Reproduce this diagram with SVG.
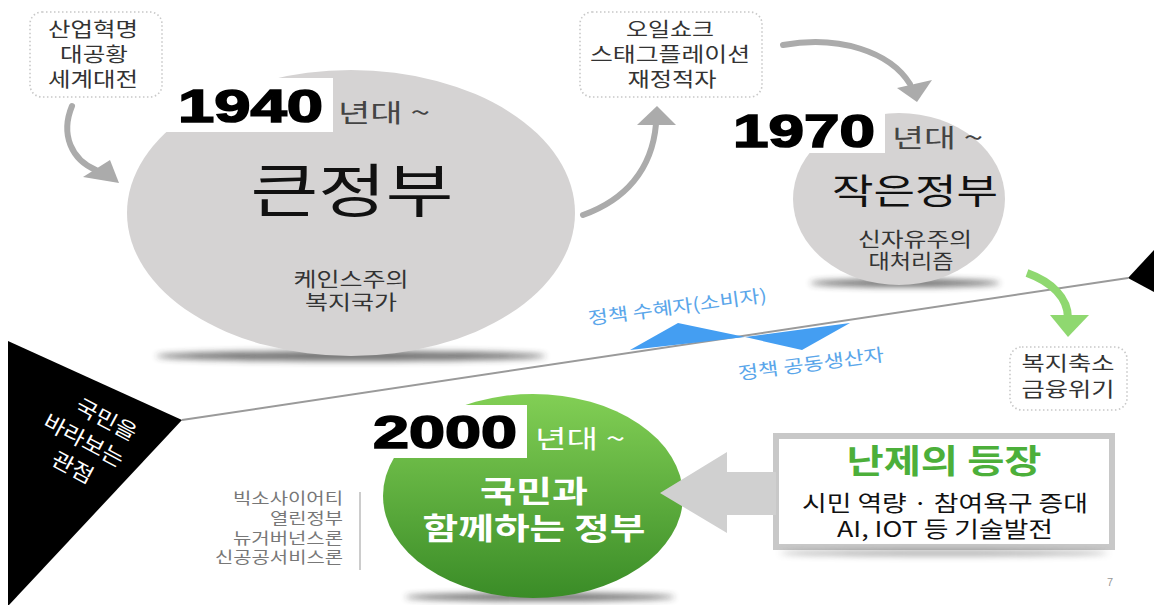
<svg xmlns="http://www.w3.org/2000/svg" width="1154" height="605" viewBox="0 0 1154 605">
<defs>
<style>
.kr{font-family:"Noto Sans CJK KR","Noto Sans",sans-serif}
.num{font-family:"Liberation Sans",Arial,sans-serif;font-weight:bold;font-size:46px;fill:#000;stroke:#000;stroke-width:1.6}
.dec{font-family:"Noto Sans CJK KR",sans-serif;font-size:25px;fill:#444}
.note{font-family:"Noto Sans CJK KR",sans-serif;font-size:20px;fill:#333;text-anchor:middle}
.dotbox{fill:#fff;stroke:#c8c8c8;stroke-width:1.6;stroke-dasharray:1.5 2.5}
.garrow{fill:none;stroke:#ababab;stroke-width:6;stroke-linecap:round}
.ghead{fill:#ababab}
.blue{font-family:"Noto Sans CJK KR",sans-serif;font-size:18px;fill:#5aa6ea}
.list{font-family:"Noto Sans CJK KR",sans-serif;font-size:16px;fill:#777;text-anchor:end}
</style>
<filter id="blur" x="-20%" y="-200%" width="140%" height="500%"><feGaussianBlur stdDeviation="3"/></filter>
<linearGradient id="green" x1="0" y1="0" x2="0" y2="1">
<stop offset="0" stop-color="#82cf55"/>
<stop offset="1" stop-color="#3a8c27"/>
</linearGradient>
</defs>
<rect width="1154" height="605" fill="#fff"/>

<g id="divider">
<line x1="182" y1="420" x2="1128" y2="278" stroke="#9a9a9a" stroke-width="2"/>
<polygon points="8,341 182,420 9,605 8,605" fill="#000"/>
<polygon points="1128,278 1154,250 1154,292" fill="#000"/>
<g transform="translate(84,440) rotate(28)" font-family="Noto Sans CJK KR,sans-serif" font-size="21" fill="#fff" text-anchor="middle">
<text x="10" y="-21" textLength="66" lengthAdjust="spacingAndGlyphs">국민을</text>
<text x="0" y="8" textLength="88" lengthAdjust="spacingAndGlyphs">바라보는</text>
<text x="3" y="37" textLength="44" lengthAdjust="spacingAndGlyphs">관점</text>
</g>
</g>

<g id="node-1940">
<ellipse cx="351" cy="356" rx="195" ry="5" fill="#333" opacity="0.7" filter="url(#blur)"/>
<ellipse cx="351" cy="213" rx="224" ry="143" fill="#d5d3d3"/>
<rect x="160" y="78" width="173" height="54" fill="#fff"/>
<text class="num" x="178" y="122" textLength="145" lengthAdjust="spacingAndGlyphs">1940</text>
<text class="dec" x="338" y="122" textLength="92" lengthAdjust="spacingAndGlyphs">년대 ~</text>
<text class="kr" x="352" y="212" font-size="58" fill="#111" text-anchor="middle" textLength="203" lengthAdjust="spacingAndGlyphs">큰정부</text>
<text class="note" x="351" y="287" textLength="115" lengthAdjust="spacingAndGlyphs">케인스주의</text>
<text class="note" x="351" y="310" textLength="92" lengthAdjust="spacingAndGlyphs">복지국가</text>
</g>

<g id="node-1970">
<ellipse cx="905" cy="283" rx="95" ry="4" fill="#333" opacity="0.7" filter="url(#blur)"/>
<ellipse cx="899" cy="199" rx="106" ry="86" fill="#d5d3d3"/>
<rect x="725" y="100" width="160" height="53" fill="#fff"/>
<text class="num" x="733" y="147" textLength="142" lengthAdjust="spacingAndGlyphs">1970</text>
<text class="dec" x="892" y="147" textLength="91" lengthAdjust="spacingAndGlyphs">년대 ~</text>
<text class="kr" x="915" y="204" font-size="35" fill="#111" text-anchor="middle" textLength="166" lengthAdjust="spacingAndGlyphs">작은정부</text>
<text class="note" x="915" y="247" textLength="114" lengthAdjust="spacingAndGlyphs">신자유주의</text>
<text class="note" x="911" y="269" textLength="85" lengthAdjust="spacingAndGlyphs">대처리즘</text>
</g>

<g id="node-2000">
<ellipse cx="540" cy="597" rx="135" ry="4" fill="#333" opacity="0.7" filter="url(#blur)"/>
<ellipse cx="533" cy="496" rx="150" ry="102" fill="url(#green)"/>
<rect x="368" y="405" width="159" height="53" fill="#fff"/>
<text class="num" x="373" y="448" textLength="144" lengthAdjust="spacingAndGlyphs">2000</text>
<text class="dec" x="535" y="448" style="fill:#fff" textLength="90" lengthAdjust="spacingAndGlyphs">년대 ~</text>
<text class="kr" x="534" y="502" font-size="30" fill="#fff" font-weight="bold" text-anchor="middle" textLength="108" lengthAdjust="spacingAndGlyphs">국민과</text>
<text class="kr" x="534" y="539" font-size="30" fill="#fff" font-weight="bold" text-anchor="middle" textLength="223" lengthAdjust="spacingAndGlyphs">함께하는 정부</text>
</g>

<g id="note-causes1940">
<rect class="dotbox" x="30" y="12" width="132" height="85" rx="12"/>
<text class="note" x="93" y="37" textLength="90" lengthAdjust="spacingAndGlyphs">산업혁명</text>
<text class="note" x="94" y="62" textLength="68" lengthAdjust="spacingAndGlyphs">대공황</text>
<text class="note" x="93" y="87" textLength="90" lengthAdjust="spacingAndGlyphs">세계대전</text>
</g>

<g id="note-causes1970">
<rect class="dotbox" x="580" y="12" width="182" height="85" rx="12"/>
<text class="note" x="670" y="37" textLength="88" lengthAdjust="spacingAndGlyphs">오일쇼크</text>
<text class="note" x="670" y="62" textLength="160" lengthAdjust="spacingAndGlyphs">스태그플레이션</text>
<text class="note" x="672" y="87" textLength="89" lengthAdjust="spacingAndGlyphs">재정적자</text>
</g>

<g id="note-results1970">
<rect class="dotbox" x="1010" y="347" width="117" height="63" rx="12"/>
<text class="note" x="1068" y="371" textLength="93" lengthAdjust="spacingAndGlyphs">복지축소</text>
<text class="note" x="1068" y="397" textLength="93" lengthAdjust="spacingAndGlyphs">금융위기</text>
</g>

<g id="challenge">
<rect x="776" y="436" width="336" height="111" fill="#fff" stroke="#c8c8c8" stroke-width="6"/>
<ellipse cx="944" cy="553" rx="165" ry="3" fill="#555" opacity="0.5" filter="url(#blur)"/>
<text class="kr" x="944" y="473" font-size="33" font-weight="bold" fill="#4caf3a" text-anchor="middle" textLength="195" lengthAdjust="spacingAndGlyphs">난제의 등장</text>
<text class="kr" x="945" y="511" font-size="22" fill="#111" text-anchor="middle" textLength="286" lengthAdjust="spacingAndGlyphs">시민 역량 · 참여욕구 증대</text>
<text class="kr" x="945" y="537" font-size="22" fill="#111" text-anchor="middle" textLength="216" lengthAdjust="spacingAndGlyphs">AI, IOT 등 기술발전</text>
</g>

<g id="theories">
<text class="list" x="343" y="504" textLength="110" lengthAdjust="spacingAndGlyphs">빅소사이어티</text>
<text class="list" x="343" y="524" textLength="73" lengthAdjust="spacingAndGlyphs">열린정부</text>
<text class="list" x="343" y="544" textLength="110" lengthAdjust="spacingAndGlyphs">뉴거버넌스론</text>
<text class="list" x="343" y="563" textLength="128" lengthAdjust="spacingAndGlyphs">신공공서비스론</text>
<line x1="360" y1="492" x2="360" y2="570" stroke="#bbb" stroke-width="1.5"/>
</g>

<g id="connectors">
<path class="garrow" d="M72,106 C60,135 72,160 96,170" stroke-width="5"/>
<polygon class="ghead" points="83,177 110,160 119,183"/>
<path class="garrow" d="M583,215 C625,200 652,170 656,124" stroke-width="5"/>
<polygon class="ghead" points="637,125 676,125 657,106"/>
<path class="garrow" d="M783,45 C840,35 890,52 910,84" stroke-width="5"/>
<polygon class="ghead" points="897,88 932,80 917,102"/>
<path d="M1027,273 C1052,282 1068,298 1068,318" fill="none" stroke="#8fd870" stroke-width="8"/>
<polygon points="1050,315 1089,315 1068,337" fill="#8fd870"/>
<polygon points="660,493 727,452 727,472 776,472 776,515 727,515 727,533" fill="#d0d0d0"/>
<polygon points="630,350 678,323 745,337 850,323 802,350 745,337" fill="#449ef2"/>
<text class="blue" transform="translate(589,325) rotate(-7.5)" textLength="180" lengthAdjust="spacingAndGlyphs">정책 수혜자(소비자)</text>
<text class="blue" transform="translate(739,380) rotate(-7.5)" textLength="147" lengthAdjust="spacingAndGlyphs">정책 공동생산자</text>
</g>

<text x="1107" y="586" font-family="Liberation Sans,sans-serif" font-size="11" fill="#999">7</text>
</svg>
